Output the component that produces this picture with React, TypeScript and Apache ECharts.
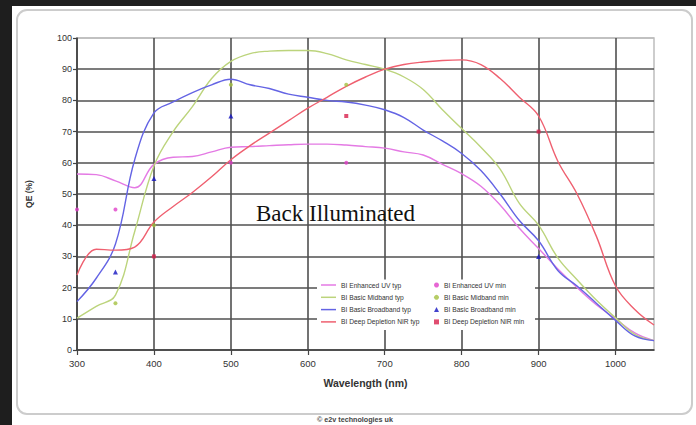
import React, { useEffect, useRef } from 'react';
import * as echarts from 'echarts';

// Wavelength grid (nm) shared by the "typ" curves
const wavelengths = [
  300, 325, 350, 375, 400, 425, 450, 475, 500, 525, 550, 575, 600, 625, 650, 675,
  700, 725, 750, 775, 800, 825, 850, 875, 900, 925, 950, 975, 1000, 1025, 1050,
];

// QE (%) typical curves
const enhancedUvTyp = [
  56.4, 56.2, 54.2, 52, 59.5, 61.8, 62, 63.5, 65, 65.2, 65.5, 65.8, 66, 66, 65.7, 65.2,
  64.7, 63.5, 62.5, 59.5, 56.5, 52.5, 46.5, 39, 32.5, 26, 20, 14.5, 10, 5.5, 3,
];
const midbandTyp = [
  10.2, 14, 17.6, 38, 59, 70, 78, 87, 92.5, 95, 95.8, 96, 96, 95, 93, 91.5,
  90, 87.5, 83.5, 77, 71, 65, 58, 47, 40, 29.5, 22.5, 16, 10.3, 5, 3,
];
const broadbandTyp = [
  15.5, 23, 34, 61, 76, 79.5, 82.5, 85, 86.8, 85, 83.8, 82, 81, 80, 79.5, 78.5,
  77, 74.5, 70.5, 67, 63, 57.5, 50, 41.5, 35, 25.5, 20.5, 15, 9.5, 4.5, 3,
];
const deepDepletionTyp = [
  24, 32.3, 32, 33, 41, 46, 50.5, 55.5, 61, 65.5, 69.5, 73.5, 77.5, 81, 84.5, 87.5,
  90, 91.5, 92.3, 92.8, 93, 91.5, 87, 81, 75, 60.5, 50, 36.5, 20.5, 13, 8,
];

// QE (%) minimum points [wavelength, QE]
const enhancedUvMin = [[300, 45], [350, 45], [500, 60], [650, 60]];
const midbandMin = [[350, 15], [400, 40], [500, 85], [650, 85]];
const broadbandMin = [[350, 25], [400, 55], [500, 75], [900, 30]];
const deepDepletionMin = [[400, 30], [650, 75], [900, 70]];

const typNames = ['BI Enhanced UV typ', 'BI Basic Midband typ', 'BI Basic Broadband typ', 'BI Deep Depletion NIR typ'];
const minNames = ['BI Enhanced UV min', 'BI Basic Midband min', 'BI Basic Broadband min', 'BI Deep Depletion NIR min'];

const xTicks = [300, 400, 500, 600, 700, 800, 900, 1000];

export default function App() {
  const ref = useRef<HTMLDivElement>(null);

  useEffect(() => {
    const chart = echarts.init(ref.current!, undefined, { renderer: 'svg' });
    const pairs = (ys: number[]) => wavelengths.map((w, i) => [w, ys[i]]);
    const sans = 'Liberation Sans, Arial, sans-serif';
    const dark = '#505050';
    const lineIcon = 'path://M0,0 L20,0 L20,2 L0,2 Z';

    const lineSeries = (name: string, ys: number[], color: string) => ({
      name,
      type: 'line',
      data: pairs(ys),
      smooth: 0.4,
      symbol: 'none',
      showSymbol: false,
      lineStyle: { color, width: 1.4 },
      itemStyle: { color },
      z: 2,
    });
    const scatterSeries = (name: string, data: number[][], color: string, symbol: string, size: number) => ({
      name,
      type: 'scatter',
      data,
      symbol,
      symbolSize: size,
      itemStyle: { color },
      z: 3,
    });

    const yColors = Array(10).fill(dark).concat(['#bdbdbd']);
    const xColors = Array(8).fill(dark).concat(['#bdbdbd']);

    chart.setOption({
      animation: false,
      backgroundColor: '#ffffff',
      grid: {
        left: 77,
        top: 38,
        right: 42,
        bottom: 75,
        show: true,
        borderColor: '#bdbdbd',
        borderWidth: 1.5,
        backgroundColor: 'transparent',
      },
      xAxis: {
        type: 'value',
        min: 300,
        max: 1050,
        interval: 100,
        name: 'Wavelength (nm)',
        nameLocation: 'middle',
        nameGap: 27,
        nameTextStyle: { fontFamily: sans, fontWeight: 'bold', fontSize: 10.5, color: '#333' },
        axisLine: { show: true, lineStyle: { color: '#444', width: 1.5 } },
        axisTick: { show: true, length: 5, customValues: xTicks, lineStyle: { color: '#444', width: 1.2 } },
        axisLabel: {
          customValues: xTicks,
          formatter: (v: number) => String(v),
          fontFamily: sans,
          fontSize: 9.5,
          color: '#333',
          margin: 8,
        },
        splitLine: { show: true, lineStyle: { color: xColors, width: 1.6 } },
      },
      yAxis: {
        type: 'value',
        min: 0,
        max: 100,
        interval: 10,
        name: 'QE (%)',
        nameLocation: 'middle',
        nameGap: 44,
        nameTextStyle: { fontFamily: sans, fontWeight: 'bold', fontSize: 8.5, color: '#333' },
        axisLine: { show: true, lineStyle: { color: '#444', width: 1.5 } },
        axisTick: { show: true, length: 4, lineStyle: { color: '#444', width: 1.2 } },
        axisLabel: { formatter: (v: number) => String(v), fontFamily: sans, fontSize: 9, color: '#333', margin: 5 },
        splitLine: { show: true, lineStyle: { color: yColors, width: 1.6 } },
      },
      legend: [
        {
          data: typNames.map((name) => ({ name, icon: lineIcon })),
          orient: 'vertical',
          left: 321,
          top: 281.5,
          padding: 0,
          itemWidth: 15,
          itemHeight: 7,
          itemGap: 5.3,
          itemTextGap: 3,
          textStyle: { fontFamily: sans, fontSize: 6.7, lineHeight: 7, color: '#333' },
          z: 6,
        },
        {
          data: minNames,
          orient: 'vertical',
          left: 434,
          top: 281.5,
          padding: 0,
          itemWidth: 5,
          itemHeight: 5,
          itemGap: 5.3,
          itemTextGap: 8,
          textStyle: { fontFamily: sans, fontSize: 6.7, lineHeight: 7, color: '#333' },
          z: 6,
        },
      ],
      graphic: [
        { type: 'rect', z: -10, shape: { x: 0, y: 0, width: 696, height: 6 }, style: { fill: '#1e1e1e' } },
        { type: 'rect', z: -10, shape: { x: 0, y: 0, width: 12, height: 425 }, style: { fill: '#1e1e1e' } },
        {
          type: 'rect',
          z: -9,
          shape: { x: 17, y: 10, width: 675, height: 404, r: 10 },
          style: { fill: '#ffffff', stroke: '#cccccc', lineWidth: 2 },
        },
        { type: 'rect', z: 5, shape: { x: 317, y: 279.5, width: 218, height: 50.5 }, style: { fill: '#ffffff' } },
        {
          type: 'text',
          z: 7,
          x: 256,
          y: 213,
          style: {
            text: 'Back Illuminated',
            fontFamily: 'Liberation Serif, Times New Roman, serif',
            fontSize: 23,
            fill: '#111',
            align: 'left',
            verticalAlign: 'middle',
          },
        },
        {
          type: 'text',
          z: 7,
          x: 317,
          y: 416,
          style: {
            text: '© e2v technologies uk',
            fontFamily: sans,
            fontSize: 7.2,
            fontWeight: 'bold',
            fill: '#444',
            align: 'left',
            verticalAlign: 'top',
          },
        },
      ],
      series: [
        lineSeries(typNames[0], enhancedUvTyp, '#e47ae4'),
        lineSeries(typNames[1], midbandTyp, '#bcd47c'),
        lineSeries(typNames[2], broadbandTyp, '#6464e4'),
        lineSeries(typNames[3], deepDepletionTyp, '#ef6070'),
        scatterSeries(minNames[0], enhancedUvMin, '#e040c8', 'circle', 4),
        scatterSeries(minNames[1], midbandMin, '#a4c040', 'circle', 4),
        scatterSeries(minNames[2], broadbandMin, '#1414c0', 'triangle', 5),
        scatterSeries(minNames[3], deepDepletionMin, '#d8204c', 'rect', 4),
      ],
    });

    return () => chart.dispose();
  }, []);

  return <div ref={ref} style={{ position: 'fixed', left: 0, top: 0, width: 696, height: 425 }} />;
}
